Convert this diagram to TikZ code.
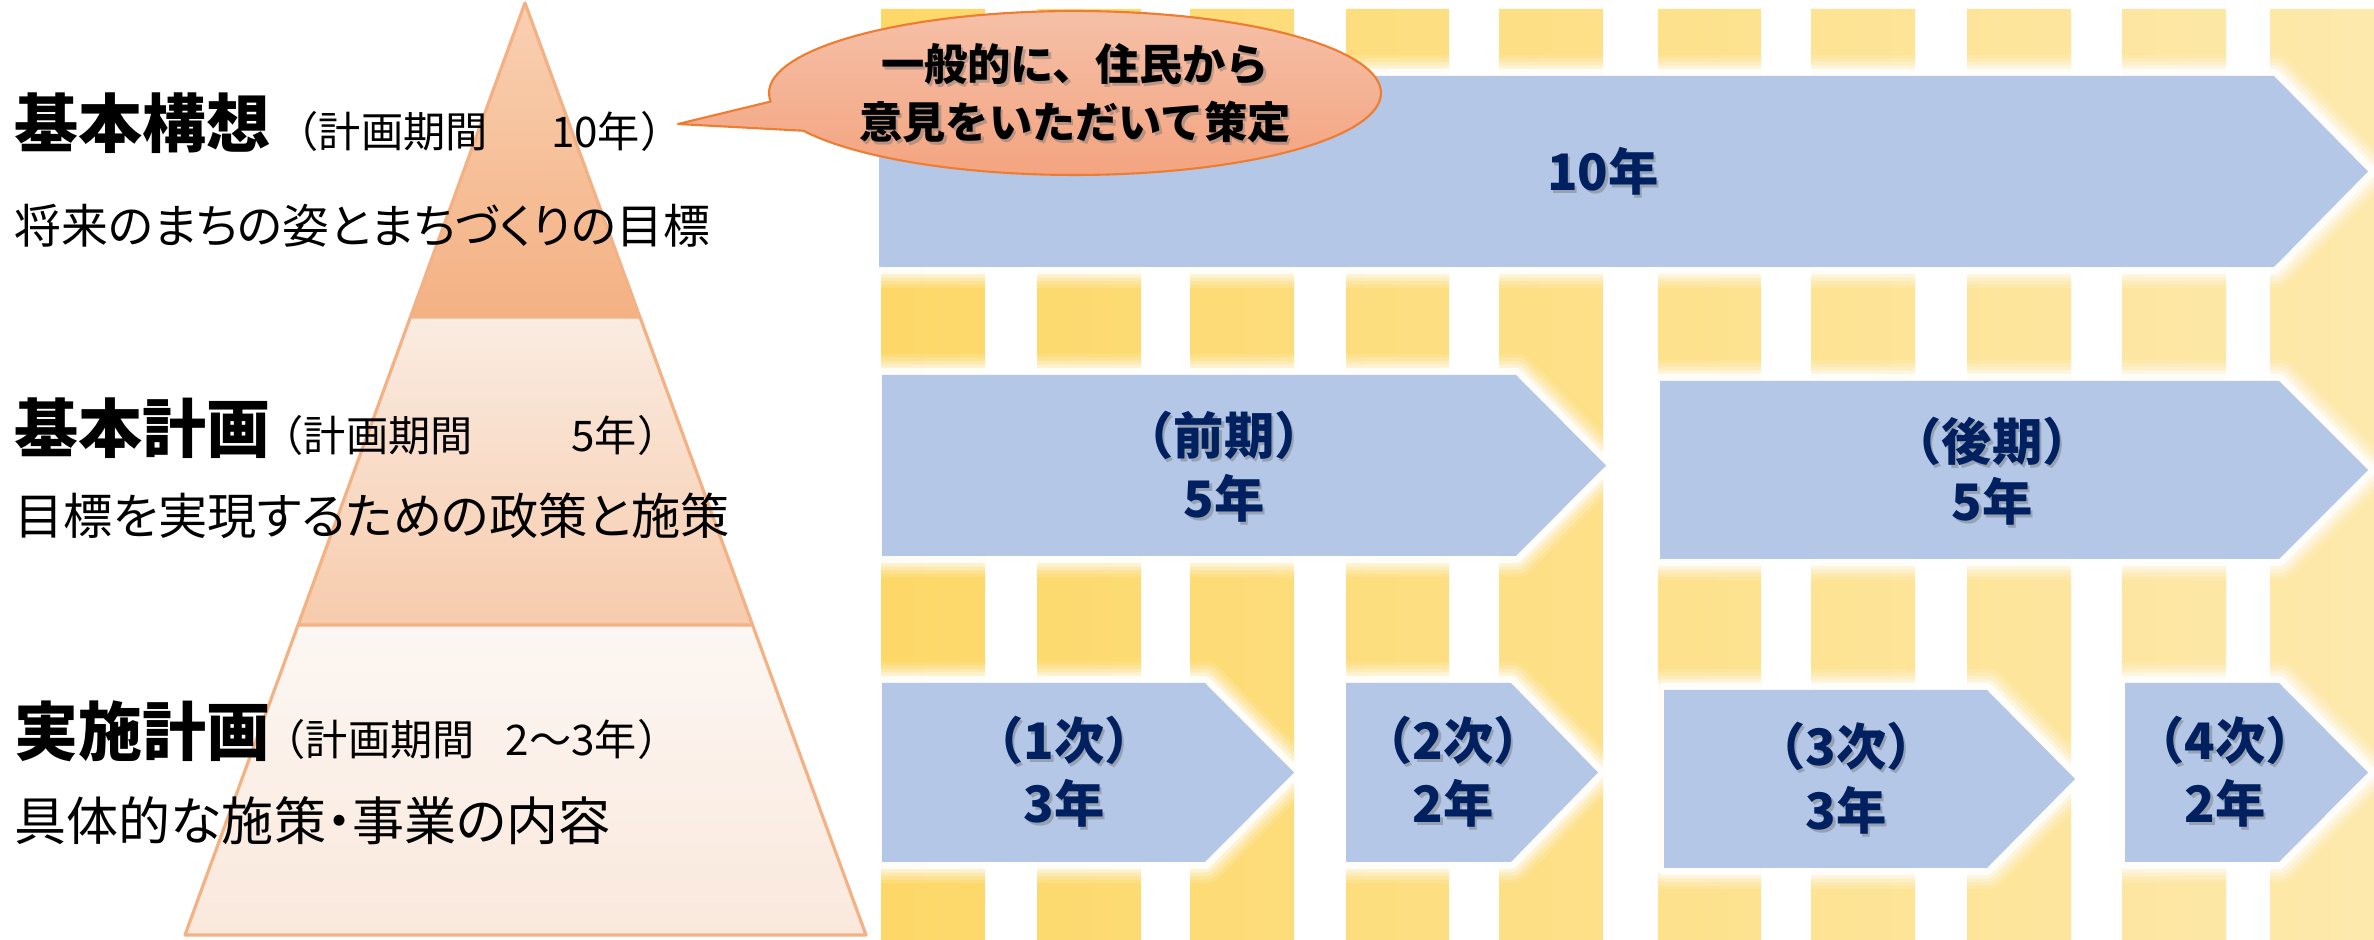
\documentclass[tikz,border=0pt]{standalone}
\usepackage{fontspec}
\newfontfamily\jp{Noto Sans CJK JP}
\newfontfamily\jpp[RawFeature=+palt]{Noto Sans CJK JP}
\definecolor{arrowblue}{RGB}{180,199,231}
\definecolor{stripeL}{RGB}{253,216,104}
\definecolor{stripeR}{RGB}{253,233,172}
\definecolor{navy}{RGB}{0,32,96}
\definecolor{triline}{RGB}{244,177,131}
\definecolor{tOnea}{RGB}{249,208,178}
\definecolor{tOneb}{RGB}{244,177,131}
\definecolor{tTwoa}{RGB}{250,236,226}
\definecolor{tTwob}{RGB}{247,203,172}
\definecolor{tThra}{RGB}{252,247,243}
\definecolor{tThrb}{RGB}{250,232,220}
\definecolor{bubA}{RGB}{245,192,168}
\definecolor{bubB}{RGB}{244,164,128}
\definecolor{bubline}{RGB}{237,125,49}
\tikzset{
  heading/.style={font=\jp\bfseries\fontsize{18.2}{18.2}\selectfont, anchor=base west, inner sep=0pt},
  period/.style={font=\jp\fontsize{12}{12}\selectfont, inner sep=0pt},
  sub/.style={font=\jpp\fontsize{#1}{#1}\selectfont, anchor=base west, inner sep=0pt},
  atext/.style={font=\jp\bfseries\fontsize{14.3}{14.3}\selectfont, anchor=base, inner sep=0pt},
  btext/.style={font=\jp\bfseries\fontsize{12.3}{12.3}\selectfont, anchor=base, inner sep=0pt},
  arrowfill/.style={fill=arrowblue},
}
% #1 name, #2 left, #3 top, #4 bottom, #5 body right, #6 tip
\newcommand\glowarr[6]{%
  \foreach \w/\o in {12/0.12, 10/0.18, 8/0.25, 6/0.4, 4/0.85}{%
    \draw[white, line width=\w pt, opacity=\o, line join=round]
      (#2,#3) -- (#5,#3) -- (#6,{(#3+#4)/2}) -- (#5,#4) -- (#2,#4) -- cycle;}
  \fill[arrowfill] (#2,#3) -- (#5,#3) -- (#6,{(#3+#4)/2}) -- (#5,#4) -- (#2,#4) -- cycle;
  \coordinate (#1) at ({(#2+#5)/2},{(#3+#4)/2});
}
% shadowed text: #1 name, #2 x, #3 baseline y, #4 style, #5 colour, #6 text
\newcommand\shtext[6]{%
  \node[#4, text=black!55, opacity=0.45] at ({#2+2.5},{#3+2.5}) {#6};
  \node[#4, text=#5] (#1) at (#2,#3) {#6};
}
\begin{document}
\begin{tikzpicture}[x=0.01cm,y=-0.01cm]
\useasboundingbox (0,0) rectangle (2374,940);
\fill[white] (0,0) rectangle (2374,940);
% stripes
\shade[left color=stripeL, right color=stripeR]
  (881,9) rectangle (985,940) (1037,9) rectangle (1141,940)
  (1190,9) rectangle (1294,940) (1346,9) rectangle (1449,940)
  (1499,9) rectangle (1603,940) (1658,9) rectangle (1761,940)
  (1811,9) rectangle (1915,940) (1967,9) rectangle (2071,940)
  (2122,9) rectangle (2226,940) (2270,9) rectangle (2374,940);
% arrows
\glowarr{a10}{879}{76}{267}{2274}{2368}
\glowarr{aZen}{882}{375}{556}{1516}{1606}
\glowarr{aKou}{1660}{381}{559}{2279}{2368}
\glowarr{a1}{882}{683}{862}{1205}{1294}
\glowarr{a2}{1346}{683}{862}{1511}{1598}
\glowarr{a3}{1664}{690}{868}{1987}{2075}
\glowarr{a4}{2125}{683}{862}{2279}{2368}
% arrow texts
\shtext{t10}{1603}{191}{atext}{navy}{10年}
\shtext{tZenA}{1224}{455}{atext}{navy}{（前期）}
\shtext{tZenB}{1224}{518}{atext}{navy}{5年}
\shtext{tKouA}{1992}{461}{atext}{navy}{（後期）}
\shtext{tKouB}{1992}{521}{atext}{navy}{5年}
\shtext{t1A}{1064}{760}{atext}{navy}{（1次）}
\shtext{t1B}{1064}{823}{atext}{navy}{3年}
\shtext{t2A}{1453}{760}{atext}{navy}{（2次）}
\shtext{t2B}{1453}{823}{atext}{navy}{2年}
\shtext{t3A}{1846}{766}{atext}{navy}{（3次）}
\shtext{t3B}{1846}{830}{atext}{navy}{3年}
\shtext{t4A}{2225}{760}{atext}{navy}{（4次）}
\shtext{t4B}{2225}{823}{atext}{navy}{2年}
% pyramid
\shade[top color=tOnea, bottom color=tOneb] (525,3) -- (640,317) -- (410,317) -- cycle;
\shade[top color=tTwoa, bottom color=tTwob] (410,317) -- (640,317) -- (753,625) -- (298,625) -- cycle;
\shade[top color=tThra, bottom color=tThrb] (298,625) -- (753,625) -- (866,935) -- (185,935) -- cycle;
\draw[triline, line width=0.9pt, line join=round]
  (525,3) -- (866,935) -- (185,935) -- cycle
  (410,317) -- (640,317) (298,625) -- (753,625);
% speech bubble
\coordinate (tip) at (678,124);
\shade[top color=bubA, bottom color=bubB, draw=bubline, line width=0.6pt, line join=round]
  (tip) -- plot[domain=174:512.6, samples=120] ({1075+306*cos(\x)},{93+82*sin(\x)}) -- cycle;
\shtext{bub1}{1075}{81}{btext}{black}{一般的に、住民から}
\shtext{bub2}{1075}{139}{btext}{black}{意見をいただいて策定}
% left texts
\node[heading] (h1) at (14,148) {基本構想};
\node[period, anchor=base west] (p1a) at (276,148) {（計画期間};
\node[period, anchor=base east] (p1b) at (683,148) {10年）};
\node[sub=13.3] (s1) at (14,244) {将来のまちの姿とまちづくりの目標};
\node[heading] (h2) at (14,453) {基本計画};
\node[period, anchor=base west] (p2a) at (261,452) {（計画期間};
\node[period, anchor=base east] (p2b) at (680,452) {5年）};
\node[sub=14.0] (s2) at (14,535) {目標を実現するための政策と施策};
\node[heading] (h3) at (14,756) {実施計画};
\node[period, anchor=base west] (p3a) at (263,756) {（計画期間};
\node[period, anchor=base east] (p3b) at (680,756) {2～3年）};
\node[sub=14.8] (s3) at (14,841) {具体的な施策・事業の内容};
\end{tikzpicture}
\end{document}
